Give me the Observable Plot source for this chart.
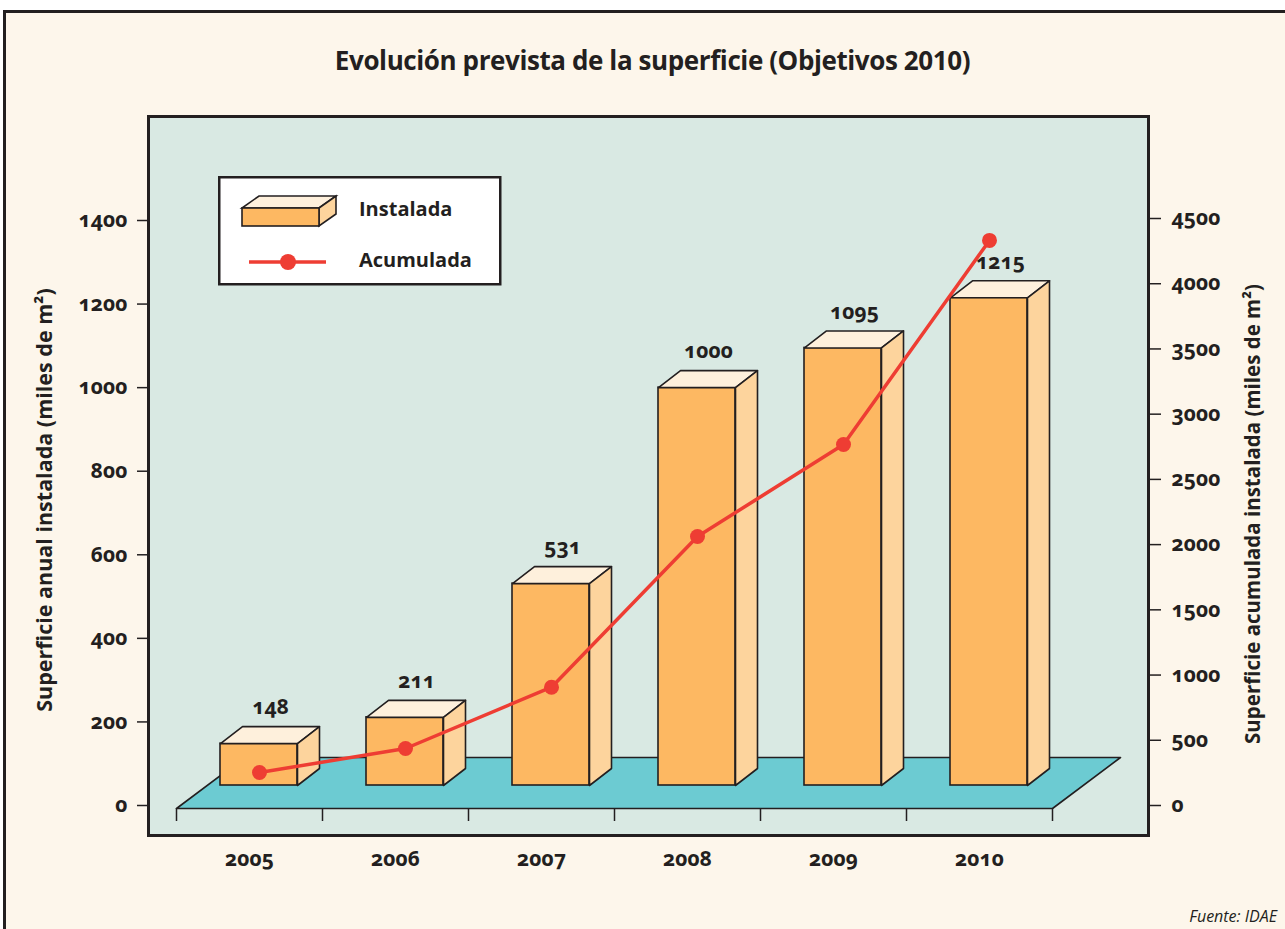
<!DOCTYPE html>
<html>
<head>
<meta charset="utf-8">
<script src="https://cdn.jsdelivr.net/npm/d3@7"></script>
<script src="https://cdn.jsdelivr.net/npm/@observablehq/plot@0.6"></script>
<style>
  html, body { margin: 0; padding: 0; background: #ffffff; }
  #wrap { position: relative; width: 1285px; height: 929px; overflow: hidden; background: #ffffff; font-family: "Open Sans", "Noto Sans", sans-serif; color: #231f20; }
  #paper { position: absolute; left: 3px; top: 10px; width: 1400px; height: 1000px; background: #fdf6eb; border-left: 3px solid #231f20; border-top: 3px solid #231f20; }
  #chart { position: absolute; left: 0; top: 0; }
  #chart svg { background: transparent !important; }
  #chart svg text { font-feature-settings: "onum" 1; }
  #title { position: absolute; left: 0; width: 1305px; top: 42px; text-align: center; font-weight: 700; font-size: 26px; letter-spacing: -0.4px; }
  #legend { position: absolute; left: 218px; top: 176px; }
  #source { position: absolute; right: 8px; top: 905px; font-style: italic; font-size: 16px; }
</style>
</head>
<body>
<div id="wrap">
  <div id="paper"></div>
  <div id="chart"></div>
  <div id="title">Evolución prevista de la superficie (Objetivos 2010)</div>
  <svg id="legend" width="286" height="112">
    <rect x="1.25" y="1.25" width="281" height="107" fill="#ffffff" stroke="#231f20" stroke-width="2.5"></rect>
    <polygon points="24,32 101,32 118,20 41,20" fill="#fef0dc" stroke="#231f20" stroke-width="1.6"></polygon>
    <polygon points="101,32 118,20 118,38 101,50" fill="#fdd49d" stroke="#231f20" stroke-width="1.6"></polygon>
    <rect x="24" y="32" width="77" height="18" fill="#fdb862" stroke="#231f20" stroke-width="1.6"></rect>
    <line x1="31" y1="86" x2="108" y2="86" stroke="#ee3d33" stroke-width="3.5"></line>
    <circle cx="70" cy="86" r="8" fill="#ee3d33"></circle>
    <text x="141" y="40" font-family="Open Sans, Noto Sans, sans-serif" font-weight="700" font-size="20" fill="#231f20">Instalada</text>
    <text x="141" y="91" font-family="Open Sans, Noto Sans, sans-serif" font-weight="700" font-size="20" fill="#231f20">Acumulada</text>
  </svg>
  <div id="source">Fuente: IDAE</div>
</div>
<script>
// ---- data ----
const years = [2005, 2006, 2007, 2008, 2009, 2010];
const instalada = [148, 211, 531, 1000, 1095, 1215];
const acumulada = [253, 437, 907, 2062, 2768, 4332];
const leftTicks = [0, 200, 400, 600, 800, 1000, 1200, 1400];
const rightTicks = [0, 500, 1000, 1500, 2000, 2500, 3000, 3500, 4000, 4500];
const leftLabel = "Superficie anual instalada (miles de m²)";
const rightLabel = "Superficie acumulada instalada (miles de m²)";

// ---- scales / layout ----
const xScale = {type: "linear", domain: [2004.5, 2010.5], range: [176, 1052]};
const yScale = {type: "linear", domain: [0, 1400], range: [805, 220]};
const rightTop = 218; // pixel of 4500 on right axis
const k = ((yScale.range[0] - rightTop) / 4500) / ((yScale.range[0] - yScale.range[1]) / 1400);

const pxX = (xScale.domain[1] - xScale.domain[0]) / (xScale.range[1] - xScale.range[0]);
const pxY = (yScale.domain[1] - yScale.domain[0]) / (yScale.range[0] - yScale.range[1]);

const faceL = -29 * pxX, faceR = 48 * pxX;
const depX = 22 * pxX, depY = 17 * pxY;
const base = 20 * pxY;
const floorFront = -3 * pxY, floorBack = 48 * pxY, floorDx = 68 * pxX;

const bars = years.map((y, i) => ({year: y, v: instalada[i]}));
const cum = years.map((y, i) => ({year: y, c: acumulada[i] * k}));

const topPts = bars.flatMap(d => [
  [d.year + faceL, d.v], [d.year + faceR, d.v],
  [d.year + faceR + depX, d.v + depY], [d.year + faceL + depX, d.v + depY]
].map(([x, y]) => ({id: d.year, x, y})));
const sidePts = bars.flatMap(d => [
  [d.year + faceR, d.v], [d.year + faceR + depX, d.v + depY],
  [d.year + faceR + depX, base + depY], [d.year + faceR, base]
].map(([x, y]) => ({id: d.year, x, y})));
const x0 = xScale.domain[0], x1 = xScale.domain[1];
const floorPts = [[x0, floorFront], [x1, floorFront], [x1 + floorDx, floorBack], [x0 + floorDx, floorBack]]
  .map(([x, y]) => ({x, y}));
const boundaries = [x0, ...years.map(y => y + 0.5)];

const ink = "#231f20";
const plot = Plot.plot({
  width: 1285,
  height: 929,
  marginTop: 116,
  marginRight: 137,
  marginBottom: 94,
  marginLeft: 148,
  x: xScale,
  y: yScale,
  style: {fontFamily: "Noto Sans, Open Sans, sans-serif", fontWeight: "bold", fontSize: "17px", color: ink, background: "transparent", overflow: "visible"},
  marks: [
    Plot.frame({fill: "#d9e9e3", stroke: ink, strokeWidth: 3}),
    Plot.line(floorPts, {x: "x", y: "y", curve: "linear-closed", fill: "#6ccbd2", stroke: ink, strokeWidth: 1.6}),
    Plot.rect(bars, {x1: d => d.year + faceL, x2: d => d.year + faceR, y1: base, y2: "v", fill: "#fdb862", stroke: ink, strokeWidth: 1.6}),
    Plot.line(topPts, {x: "x", y: "y", z: "id", curve: "linear-closed", fill: "#fef0dc", stroke: ink, strokeWidth: 1.6}),
    Plot.line(sidePts, {x: "x", y: "y", z: "id", curve: "linear-closed", fill: "#fdd49d", stroke: ink, strokeWidth: 1.6}),
    Plot.line(cum, {x: "year", y: "c", dx: 10, stroke: "#ee3d33", strokeWidth: 3.5}),
    Plot.dot(cum, {x: "year", y: "c", dx: 10, r: 7.5, fill: "#ee3d33"}),
    Plot.text(bars, {x: "year", y: "v", text: d => String(d.v), dx: 21, dy: -36, fontSize: 21, fontWeight: "bold", fill: ink}),
    Plot.axisX({ticks: boundaries, tickSize: 13, tickFormat: () => "", dy: -27, stroke: ink, strokeWidth: 1.5, label: null}),
    Plot.axisX({ticks: years, tickSize: 0, tickPadding: 16, tickFormat: d => String(d), fontSize: 21, label: null}),
    Plot.axisY({anchor: "left", ticks: leftTicks, tickSize: 11, tickPadding: 10, tickFormat: d => String(d), fontSize: 21, stroke: ink, strokeWidth: 1.5, label: null}),
    Plot.axisY({anchor: "right", ticks: rightTicks.map(t => t * k), tickSize: 12, tickPadding: 11, tickFormat: d => String(Math.round(d / k)), fontSize: 21, stroke: ink, strokeWidth: 1.5, label: null}),
    Plot.text([leftLabel], {text: d => d, frameAnchor: "left", textAnchor: "middle", dx: -103, dy: 24, rotate: -90, fontSize: 21.5, fontWeight: "bold", fill: ink, fontFamily: "Open Sans, sans-serif"}),
    Plot.text([rightLabel], {text: d => d, frameAnchor: "right", textAnchor: "middle", dx: 105, dy: 38, rotate: -90, fontSize: 20.5, fontWeight: "bold", fill: ink, fontFamily: "Open Sans, sans-serif"})
  ]
});
document.getElementById("chart").appendChild(plot);
</script>
</body>
</html>
